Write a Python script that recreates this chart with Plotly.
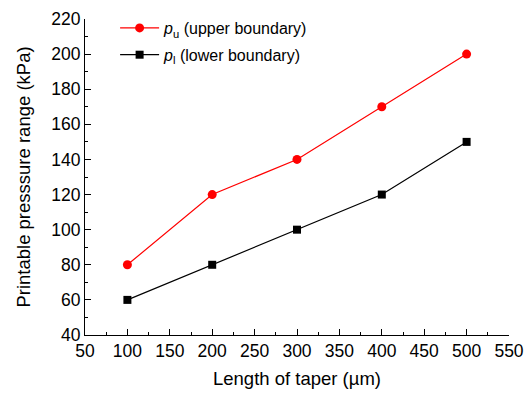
import plotly.graph_objects as go

taper_length = [100, 200, 300, 400, 500]
p_upper = [80, 120, 140, 170, 200]
p_lower = [60, 80, 100, 120, 150]

x_ticks = list(range(50, 551, 50))
y_ticks = list(range(40, 221, 20))

FONT = "Liberation Sans, Arial, sans-serif"

fig = go.Figure()
fig.add_trace(go.Scatter(
    x=taper_length, y=p_upper, mode="lines+markers",
    name="<i>p</i><sub>u</sub> (upper boundary)",
    line=dict(color="#ff0000", width=1.2),
    marker=dict(symbol="circle", size=9, color="#ff0000"),
    legendgroup="u",
))
fig.add_trace(go.Scatter(
    x=taper_length, y=p_lower, mode="lines+markers",
    name="<i>p</i><sub>l</sub> (lower boundary)",
    line=dict(color="#000000", width=1.2),
    marker=dict(symbol="square", size=8, color="#000000"),
    legendgroup="l",
))

axis_common = dict(
    showline=True, linecolor="black", linewidth=1,
    ticks="inside", ticklen=6, tickwidth=1, tickcolor="black",
    showgrid=False, zeroline=False,
    tickfont=dict(family=FONT, size=17.5, color="black"),
    mirror=False, automargin=False,
)

fig.update_xaxes(
    range=[50, 550], tickvals=x_ticks,
    minor=dict(ticks="inside", ticklen=3, dtick=25, tickcolor="black", showgrid=False),
    title=dict(text="Length of taper (\u00b5m)", font=dict(family=FONT, size=18.5, color="black"), standoff=12),
    **axis_common,
)
fig.update_yaxes(
    range=[40, 220], tickvals=y_ticks,
    minor=dict(ticks="inside", ticklen=3, dtick=10, tickcolor="black", showgrid=False),
    title=dict(text="Printable presssure range (kPa)", font=dict(family=FONT, size=18.5, color="black"), standoff=15),
    **axis_common,
)

fig.update_layout(
    width=528, height=394,
    margin=dict(l=85, r=19, t=19, b=59, autoexpand=False),
    plot_bgcolor="white", paper_bgcolor="white",
    font=dict(family=FONT, size=16, color="black"),
    legend=dict(
        x=0.071, y=1 - 11 / 394, xanchor="left", yanchor="top", yref="container",
        bgcolor="rgba(0,0,0,0)", traceorder="grouped", tracegroupgap=3,
        itemwidth=39,
        font=dict(family=FONT, size=16, color="black"),
    ),
)

fig.write_html("out.html")
